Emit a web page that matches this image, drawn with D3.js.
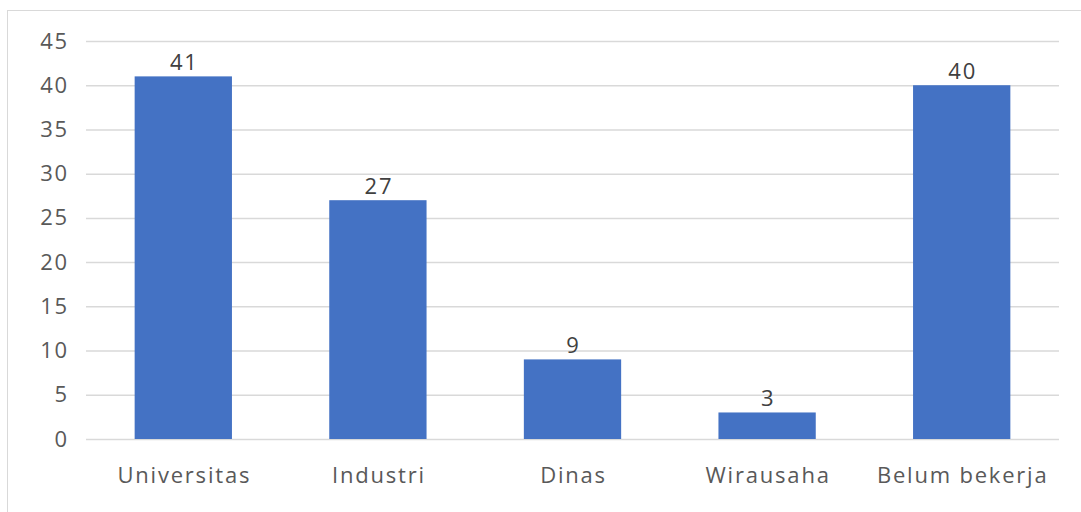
<!DOCTYPE html>
<html><head><meta charset="utf-8">
<script src="https://cdn.jsdelivr.net/npm/d3@7"></script>
<style>body{margin:0;background:#fff}svg{display:block}</style>
</head><body>
<svg id="c" width="1081" height="512"></svg>
<script>
const categories = ["Universitas","Industri","Dinas","Wirausaha","Belum bekerja"];
const values = [41,27,9,3,40];
const yTicks = [0,5,10,15,20,25,30,35,40,45];

(function(){
const svg = d3.select("#c");
const font = "'Open Sans', 'Noto Sans', sans-serif";
const mLeft = 86, mRight = 1059, mTop = 41, mBottom = 439;

svg.append("rect").attr("x",7.5).attr("y",10.5).attr("width",1100).attr("height",600)
  .attr("fill","#fff").attr("stroke","#d9d9d9").attr("stroke-width",1);

const x = d3.scaleBand().domain(categories).range([mLeft,mRight]).paddingInner(0.5).paddingOuter(0.25);
const y = d3.scaleLinear().domain([0,45]).range([mBottom,mTop]);

const yAxis = svg.append("g").attr("transform",`translate(${mLeft},0)`)
  .call(d3.axisLeft(y).tickValues(yTicks).tickSize(-(mRight-mLeft)).tickPadding(17));
yAxis.select(".domain").remove();
yAxis.selectAll(".tick line").attr("stroke","#d9d9d9").attr("stroke-width",1.5);
yAxis.selectAll(".tick text").attr("fill","#595959").style("font-family",font)
  .style("font-size","22px").style("letter-spacing","1.8px");

svg.selectAll(".bar").data(values).join("rect").attr("class","bar")
  .attr("x",(d,i)=>x(categories[i])).attr("width",x.bandwidth())
  .attr("y",d=>y(d)).attr("height",d=>y(0)-y(d)).attr("fill","#4472C4");

svg.selectAll(".lbl").data(values).join("text").attr("class","lbl")
  .attr("x",(d,i)=>x(categories[i])+x.bandwidth()/2+1).attr("y",d=>y(d)-6)
  .attr("text-anchor","middle").attr("fill","#404040")
  .style("font-family",font).style("font-size","22px").style("letter-spacing","1.8px").text(d=>d);

const xAxis = svg.append("g").attr("transform",`translate(0,${mBottom})`)
  .call(d3.axisBottom(x).tickSize(0).tickPadding(28));
xAxis.select(".domain").remove();
xAxis.selectAll(".tick text").attr("fill","#595959").style("font-family",font)
  .style("font-size","22px").style("letter-spacing","1.8px").attr("dx","1px");
})();
</script>
</body></html>
